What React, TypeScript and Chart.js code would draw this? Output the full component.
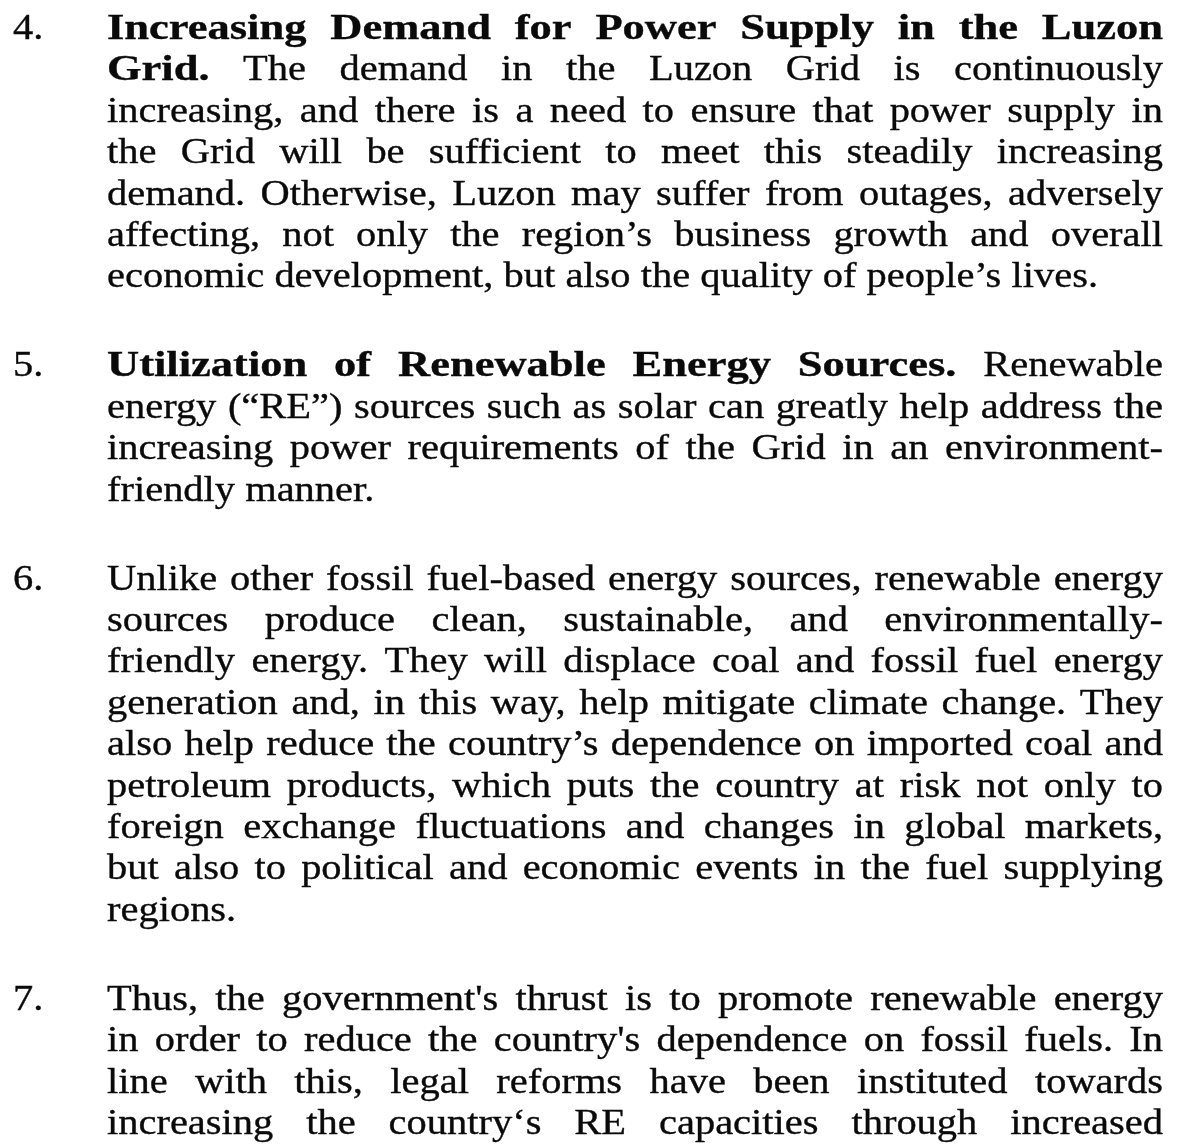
import React, { useEffect, useRef } from "react";
import { Chart, registerables } from "chart.js";

Chart.register(...registerables);

// ---- Content (data) ----
const paragraphNumbers = ["4.", "5.", "6.", "7."];

const para4Lines = [
  "Increasing Demand for Power Supply in the Luzon",
  "Grid. The demand in the Luzon Grid is continuously",
  "increasing, and there is a need to ensure that power supply in",
  "the Grid will be sufficient to meet this steadily increasing",
  "demand. Otherwise, Luzon may suffer from outages, adversely",
  "affecting, not only the region’s business growth and overall",
  "economic development, but also the quality of people’s lives.",
];
const para5Lines = [
  "Utilization of Renewable Energy Sources. Renewable",
  "energy (“RE”) sources such as solar can greatly help address the",
  "increasing power requirements of the Grid in an environment-",
  "friendly manner.",
];
const para6Lines = [
  "Unlike other fossil fuel-based energy sources, renewable energy",
  "sources produce clean, sustainable, and environmentally-",
  "friendly energy. They will displace coal and fossil fuel energy",
  "generation and, in this way, help mitigate climate change. They",
  "also help reduce the country’s dependence on imported coal and",
  "petroleum products, which puts the country at risk not only to",
  "foreign exchange fluctuations and changes in global markets,",
  "but also to political and economic events in the fuel supplying",
  "regions.",
];
const para7Lines = [
  "Thus, the government's thrust is to promote renewable energy",
  "in order to reduce the country's dependence on fossil fuels. In",
  "line with this, legal reforms have been instituted towards",
  "increasing the country‘s RE capacities through increased",
];
// number of leading bold words in each paragraph
const boldWordCounts = [9, 5, 0, 0];
// whether the final line of each paragraph is a paragraph end (not justified)
const lastLineIsEnd = [true, true, true, false];

// ---- Layout / style constants ----
const PAGE_W = 1180;
const PAGE_H = 1148;
const LINE_H = 41.4;
const FIRST_BASELINE = 39;
const PARA_GAP = 2.15; // in line units between last line of one paragraph and first of next
const NUM_X = 13;
const TEXT_LEFT = 107;
const TEXT_RIGHT = 1163;
const FONT_SIZE = 36;
const FONT_FAMILY = "'Liberation Serif', 'Times New Roman', serif";
const REF_LINE_WIDTH = 991; // measured width of "economic development ... lives."
const BOLD_EXTRA_SCALE = 1.1;
const TEXT_COLOR = "#0a0a0a";

const paragraphs = [para4Lines, para5Lines, para6Lines, para7Lines];

const textPlugin = {
  id: "documentText",
  afterDraw(chart: any) {
    const ctx: CanvasRenderingContext2D = chart.ctx;
    const xs = chart.scales.x;
    const ys = chart.scales.y;
    ctx.save();
    ctx.fillStyle = TEXT_COLOR;
    ctx.strokeStyle = TEXT_COLOR;
    ctx.lineWidth = 0.35;
    ctx.textBaseline = "alphabetic";
    ctx.textAlign = "left";
    const reg = `${FONT_SIZE}px ${FONT_FAMILY}`;
    const bold = `bold ${FONT_SIZE}px ${FONT_FAMILY}`;
    ctx.font = reg;
    const sx = REF_LINE_WIDTH / ctx.measureText(para4Lines[6]).width;
    const spaceW = ctx.measureText(" ").width * sx;
    const scaleFor = (font: string) => (font === bold ? sx * BOLD_EXTRA_SCALE : sx);

    const drawWord = (w: string, x: number, y: number, font: string) => {
      ctx.font = font;
      ctx.save();
      ctx.translate(x, y);
      ctx.scale(scaleFor(font), 1);
      ctx.fillText(w, 0, 0);
      ctx.strokeText(w, 0, 0);
      ctx.restore();
    };
    const wordWidth = (w: string, font: string) => {
      ctx.font = font;
      return ctx.measureText(w).width * scaleFor(font);
    };

    const left = xs.getPixelForValue(TEXT_LEFT);
    const right = xs.getPixelForValue(TEXT_RIGHT);
    let slot = 0;
    paragraphs.forEach((lines, pi) => {
      const numY = ys.getPixelForValue(slot);
      drawWord(paragraphNumbers[pi], xs.getPixelForValue(NUM_X), numY, reg);
      let wordIndex = 0;
      lines.forEach((line, li) => {
        const y = ys.getPixelForValue(slot + li);
        const words = line.split(" ");
        const fonts = words.map((_, k) => (wordIndex + k < boldWordCounts[pi] ? bold : reg));
        const widths = words.map((w, k) => wordWidth(w, fonts[k]));
        const total = widths.reduce((a, b) => a + b, 0);
        const isLast = li === lines.length - 1 && lastLineIsEnd[pi];
        const gap = isLast || words.length < 2 ? spaceW : (right - left - total) / (words.length - 1);
        let x = left;
        words.forEach((w, k) => {
          drawWord(w, x, y, fonts[k]);
          x += widths[k] + gap;
        });
        wordIndex += words.length;
      });
      slot += lines.length - 1 + PARA_GAP;
    });
    ctx.restore();
  },
};

export default function App() {
  const ref = useRef<HTMLCanvasElement | null>(null);
  useEffect(() => {
    document.body.style.margin = "0";
    document.body.style.overflow = "hidden";
    document.body.style.background = "#ffffff";
    if (!ref.current) return;
    const chart = new Chart(ref.current, {
      type: "scatter",
      data: { datasets: [] },
      options: {
        responsive: false,
        animation: false,
        devicePixelRatio: 1,
        layout: { padding: 0 },
        plugins: { legend: { display: false }, tooltip: { enabled: false } },
        scales: {
          x: { type: "linear", display: false, min: 0, max: PAGE_W },
          y: {
            type: "linear",
            display: false,
            reverse: true,
            min: -FIRST_BASELINE / LINE_H,
            max: (PAGE_H - FIRST_BASELINE) / LINE_H,
          },
        },
      },
      plugins: [textPlugin],
    });
    return () => chart.destroy();
  }, []);
  return (
    <div style={{ width: PAGE_W, height: PAGE_H, background: "#fff" }}>
      <canvas ref={ref} width={PAGE_W} height={PAGE_H} style={{ display: "block" }} />
    </div>
  );
}
